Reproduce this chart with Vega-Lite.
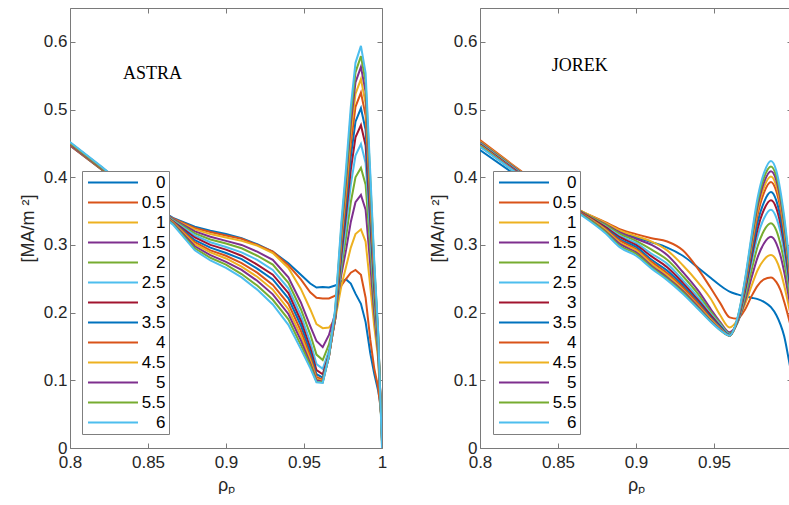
{
  "$schema": "https://vega.github.io/schema/vega-lite/v6.json",
  "background": "white",
  "padding": {"left": 19, "top": 7, "right": 0, "bottom": 0},
  "spacing": 42,
  "datasets": {
    "astra": [
      {"t":"0","x":0.8,"y":0.447},{"t":"0","x":0.82,"y":0.412},{"t":"0","x":0.84,"y":0.377},{"t":"0","x":0.866,"y":0.340},{"t":"0","x":0.88,"y":0.327},{"t":"0","x":0.89,"y":0.321},{"t":"0","x":0.9,"y":0.316},{"t":"0","x":0.91,"y":0.310},{"t":"0","x":0.92,"y":0.301},{"t":"0","x":0.93,"y":0.290},{"t":"0","x":0.94,"y":0.273},{"t":"0","x":0.948,"y":0.256},{"t":"0","x":0.954,"y":0.243},{"t":"0","x":0.958,"y":0.237},{"t":"0","x":0.962,"y":0.238},{"t":"0","x":0.966,"y":0.237},{"t":"0","x":0.97,"y":0.240},{"t":"0","x":0.974,"y":0.246},{"t":"0","x":0.977,"y":0.249},{"t":"0","x":0.98,"y":0.243},{"t":"0","x":0.983,"y":0.228},{"t":"0","x":0.9865,"y":0.213},{"t":"0","x":0.9895,"y":0.186},{"t":"0","x":0.9925,"y":0.140},{"t":"0","x":0.995,"y":0.110},{"t":"0","x":0.9975,"y":0.085},{"t":"0","x":1,"y":0.050},
      {"t":"0.5","x":0.8,"y":0.447},{"t":"0.5","x":0.82,"y":0.412},{"t":"0.5","x":0.84,"y":0.377},{"t":"0.5","x":0.866,"y":0.339},{"t":"0.5","x":0.88,"y":0.325},{"t":"0.5","x":0.89,"y":0.319},{"t":"0.5","x":0.9,"y":0.314},{"t":"0.5","x":0.91,"y":0.309},{"t":"0.5","x":0.92,"y":0.300},{"t":"0.5","x":0.93,"y":0.290},{"t":"0.5","x":0.94,"y":0.270},{"t":"0.5","x":0.948,"y":0.249},{"t":"0.5","x":0.954,"y":0.230},{"t":"0.5","x":0.958,"y":0.222},{"t":"0.5","x":0.962,"y":0.221},{"t":"0.5","x":0.966,"y":0.221},{"t":"0.5","x":0.97,"y":0.225},{"t":"0.5","x":0.974,"y":0.240},{"t":"0.5","x":0.977,"y":0.250},{"t":"0.5","x":0.98,"y":0.259},{"t":"0.5","x":0.983,"y":0.263},{"t":"0.5","x":0.9865,"y":0.256},{"t":"0.5","x":0.9895,"y":0.222},{"t":"0.5","x":0.9925,"y":0.160},{"t":"0.5","x":0.995,"y":0.118},{"t":"0.5","x":0.9975,"y":0.090},{"t":"0.5","x":1,"y":0.040},
      {"t":"1","x":0.8,"y":0.448},{"t":"1","x":0.82,"y":0.413},{"t":"1","x":0.84,"y":0.377},{"t":"1","x":0.866,"y":0.338},{"t":"1","x":0.88,"y":0.323},{"t":"1","x":0.89,"y":0.316},{"t":"1","x":0.9,"y":0.311},{"t":"1","x":0.91,"y":0.306},{"t":"1","x":0.92,"y":0.299},{"t":"1","x":0.93,"y":0.288},{"t":"1","x":0.94,"y":0.266},{"t":"1","x":0.948,"y":0.235},{"t":"1","x":0.954,"y":0.205},{"t":"1","x":0.958,"y":0.183},{"t":"1","x":0.962,"y":0.177},{"t":"1","x":0.966,"y":0.178},{"t":"1","x":0.97,"y":0.190},{"t":"1","x":0.974,"y":0.240},{"t":"1","x":0.977,"y":0.268},{"t":"1","x":0.98,"y":0.296},{"t":"1","x":0.983,"y":0.316},{"t":"1","x":0.9865,"y":0.323},{"t":"1","x":0.9895,"y":0.305},{"t":"1","x":0.9925,"y":0.238},{"t":"1","x":0.995,"y":0.180},{"t":"1","x":0.9975,"y":0.133},{"t":"1","x":1,"y":0.020},
      {"t":"1.5","x":0.8,"y":0.448},{"t":"1.5","x":0.82,"y":0.413},{"t":"1.5","x":0.84,"y":0.377},{"t":"1.5","x":0.866,"y":0.338},{"t":"1.5","x":0.88,"y":0.320},{"t":"1.5","x":0.89,"y":0.312},{"t":"1.5","x":0.9,"y":0.306},{"t":"1.5","x":0.91,"y":0.300},{"t":"1.5","x":0.92,"y":0.290},{"t":"1.5","x":0.93,"y":0.278},{"t":"1.5","x":0.94,"y":0.252},{"t":"1.5","x":0.948,"y":0.215},{"t":"1.5","x":0.954,"y":0.180},{"t":"1.5","x":0.958,"y":0.158},{"t":"1.5","x":0.962,"y":0.149},{"t":"1.5","x":0.966,"y":0.167},{"t":"1.5","x":0.97,"y":0.199},{"t":"1.5","x":0.974,"y":0.257},{"t":"1.5","x":0.977,"y":0.293},{"t":"1.5","x":0.98,"y":0.334},{"t":"1.5","x":0.983,"y":0.363},{"t":"1.5","x":0.9865,"y":0.374},{"t":"1.5","x":0.9895,"y":0.352},{"t":"1.5","x":0.9925,"y":0.270},{"t":"1.5","x":0.995,"y":0.199},{"t":"1.5","x":0.9975,"y":0.141},{"t":"1.5","x":1,"y":0.020},
      {"t":"2","x":0.8,"y":0.449},{"t":"2","x":0.82,"y":0.413},{"t":"2","x":0.84,"y":0.377},{"t":"2","x":0.866,"y":0.337},{"t":"2","x":0.88,"y":0.317},{"t":"2","x":0.89,"y":0.308},{"t":"2","x":0.9,"y":0.302},{"t":"2","x":0.91,"y":0.295},{"t":"2","x":0.92,"y":0.284},{"t":"2","x":0.93,"y":0.271},{"t":"2","x":0.94,"y":0.244},{"t":"2","x":0.948,"y":0.205},{"t":"2","x":0.954,"y":0.168},{"t":"2","x":0.958,"y":0.138},{"t":"2","x":0.962,"y":0.130},{"t":"2","x":0.966,"y":0.153},{"t":"2","x":0.97,"y":0.192},{"t":"2","x":0.974,"y":0.266},{"t":"2","x":0.977,"y":0.312},{"t":"2","x":0.98,"y":0.363},{"t":"2","x":0.983,"y":0.400},{"t":"2","x":0.9865,"y":0.414},{"t":"2","x":0.9895,"y":0.389},{"t":"2","x":0.9925,"y":0.295},{"t":"2","x":0.995,"y":0.213},{"t":"2","x":0.9975,"y":0.147},{"t":"2","x":1,"y":0.020},
      {"t":"2.5","x":0.8,"y":0.449},{"t":"2.5","x":0.82,"y":0.414},{"t":"2.5","x":0.84,"y":0.377},{"t":"2.5","x":0.866,"y":0.336},{"t":"2.5","x":0.88,"y":0.314},{"t":"2.5","x":0.89,"y":0.304},{"t":"2.5","x":0.9,"y":0.297},{"t":"2.5","x":0.91,"y":0.289},{"t":"2.5","x":0.92,"y":0.278},{"t":"2.5","x":0.93,"y":0.263},{"t":"2.5","x":0.94,"y":0.236},{"t":"2.5","x":0.948,"y":0.196},{"t":"2.5","x":0.954,"y":0.157},{"t":"2.5","x":0.958,"y":0.124},{"t":"2.5","x":0.962,"y":0.117},{"t":"2.5","x":0.966,"y":0.144},{"t":"2.5","x":0.97,"y":0.190},{"t":"2.5","x":0.974,"y":0.276},{"t":"2.5","x":0.977,"y":0.329},{"t":"2.5","x":0.98,"y":0.389},{"t":"2.5","x":0.983,"y":0.432},{"t":"2.5","x":0.9865,"y":0.449},{"t":"2.5","x":0.9895,"y":0.421},{"t":"2.5","x":0.9925,"y":0.316},{"t":"2.5","x":0.995,"y":0.226},{"t":"2.5","x":0.9975,"y":0.152},{"t":"2.5","x":1,"y":0.020},
      {"t":"3","x":0.8,"y":0.449},{"t":"3","x":0.82,"y":0.414},{"t":"3","x":0.84,"y":0.377},{"t":"3","x":0.866,"y":0.335},{"t":"3","x":0.88,"y":0.311},{"t":"3","x":0.89,"y":0.300},{"t":"3","x":0.9,"y":0.293},{"t":"3","x":0.91,"y":0.284},{"t":"3","x":0.92,"y":0.271},{"t":"3","x":0.93,"y":0.256},{"t":"3","x":0.94,"y":0.229},{"t":"3","x":0.948,"y":0.188},{"t":"3","x":0.954,"y":0.148},{"t":"3","x":0.958,"y":0.115},{"t":"3","x":0.962,"y":0.109},{"t":"3","x":0.966,"y":0.138},{"t":"3","x":0.97,"y":0.190},{"t":"3","x":0.974,"y":0.286},{"t":"3","x":0.977,"y":0.345},{"t":"3","x":0.98,"y":0.411},{"t":"3","x":0.983,"y":0.459},{"t":"3","x":0.9865,"y":0.477},{"t":"3","x":0.9895,"y":0.447},{"t":"3","x":0.9925,"y":0.334},{"t":"3","x":0.995,"y":0.236},{"t":"3","x":0.9975,"y":0.157},{"t":"3","x":1,"y":0.015},
      {"t":"3.5","x":0.8,"y":0.450},{"t":"3.5","x":0.82,"y":0.414},{"t":"3.5","x":0.84,"y":0.378},{"t":"3.5","x":0.866,"y":0.334},{"t":"3.5","x":0.88,"y":0.307},{"t":"3.5","x":0.89,"y":0.296},{"t":"3.5","x":0.9,"y":0.288},{"t":"3.5","x":0.91,"y":0.279},{"t":"3.5","x":0.92,"y":0.265},{"t":"3.5","x":0.93,"y":0.249},{"t":"3.5","x":0.94,"y":0.221},{"t":"3.5","x":0.948,"y":0.181},{"t":"3.5","x":0.954,"y":0.141},{"t":"3.5","x":0.958,"y":0.109},{"t":"3.5","x":0.962,"y":0.104},{"t":"3.5","x":0.966,"y":0.136},{"t":"3.5","x":0.97,"y":0.192},{"t":"3.5","x":0.974,"y":0.295},{"t":"3.5","x":0.977,"y":0.359},{"t":"3.5","x":0.98,"y":0.430},{"t":"3.5","x":0.983,"y":0.482},{"t":"3.5","x":0.9865,"y":0.502},{"t":"3.5","x":0.9895,"y":0.470},{"t":"3.5","x":0.9925,"y":0.349},{"t":"3.5","x":0.995,"y":0.245},{"t":"3.5","x":0.9975,"y":0.160},{"t":"3.5","x":1,"y":0.015},
      {"t":"4","x":0.8,"y":0.450},{"t":"4","x":0.82,"y":0.414},{"t":"4","x":0.84,"y":0.378},{"t":"4","x":0.866,"y":0.334},{"t":"4","x":0.88,"y":0.304},{"t":"4","x":0.89,"y":0.292},{"t":"4","x":0.9,"y":0.284},{"t":"4","x":0.91,"y":0.273},{"t":"4","x":0.92,"y":0.259},{"t":"4","x":0.93,"y":0.241},{"t":"4","x":0.94,"y":0.213},{"t":"4","x":0.948,"y":0.173},{"t":"4","x":0.954,"y":0.135},{"t":"4","x":0.958,"y":0.105},{"t":"4","x":0.962,"y":0.101},{"t":"4","x":0.966,"y":0.135},{"t":"4","x":0.97,"y":0.194},{"t":"4","x":0.974,"y":0.305},{"t":"4","x":0.977,"y":0.372},{"t":"4","x":0.98,"y":0.449},{"t":"4","x":0.983,"y":0.504},{"t":"4","x":0.9865,"y":0.525},{"t":"4","x":0.9895,"y":0.491},{"t":"4","x":0.9925,"y":0.364},{"t":"4","x":0.995,"y":0.253},{"t":"4","x":0.9975,"y":0.164},{"t":"4","x":1,"y":0.010},
      {"t":"4.5","x":0.8,"y":0.451},{"t":"4.5","x":0.82,"y":0.415},{"t":"4.5","x":0.84,"y":0.378},{"t":"4.5","x":0.866,"y":0.333},{"t":"4.5","x":0.88,"y":0.301},{"t":"4.5","x":0.89,"y":0.289},{"t":"4.5","x":0.9,"y":0.280},{"t":"4.5","x":0.91,"y":0.268},{"t":"4.5","x":0.92,"y":0.253},{"t":"4.5","x":0.93,"y":0.234},{"t":"4.5","x":0.94,"y":0.205},{"t":"4.5","x":0.948,"y":0.166},{"t":"4.5","x":0.954,"y":0.130},{"t":"4.5","x":0.958,"y":0.102},{"t":"4.5","x":0.962,"y":0.099},{"t":"4.5","x":0.966,"y":0.135},{"t":"4.5","x":0.97,"y":0.197},{"t":"4.5","x":0.974,"y":0.313},{"t":"4.5","x":0.977,"y":0.384},{"t":"4.5","x":0.98,"y":0.465},{"t":"4.5","x":0.983,"y":0.523},{"t":"4.5","x":0.9865,"y":0.545},{"t":"4.5","x":0.9895,"y":0.509},{"t":"4.5","x":0.9925,"y":0.376},{"t":"4.5","x":0.995,"y":0.260},{"t":"4.5","x":0.9975,"y":0.167},{"t":"4.5","x":1,"y":0.010},
      {"t":"5","x":0.8,"y":0.451},{"t":"5","x":0.82,"y":0.415},{"t":"5","x":0.84,"y":0.378},{"t":"5","x":0.866,"y":0.332},{"t":"5","x":0.88,"y":0.298},{"t":"5","x":0.89,"y":0.285},{"t":"5","x":0.9,"y":0.275},{"t":"5","x":0.91,"y":0.263},{"t":"5","x":0.92,"y":0.247},{"t":"5","x":0.93,"y":0.227},{"t":"5","x":0.94,"y":0.198},{"t":"5","x":0.948,"y":0.159},{"t":"5","x":0.954,"y":0.125},{"t":"5","x":0.958,"y":0.100},{"t":"5","x":0.962,"y":0.098},{"t":"5","x":0.966,"y":0.135},{"t":"5","x":0.97,"y":0.200},{"t":"5","x":0.974,"y":0.321},{"t":"5","x":0.977,"y":0.396},{"t":"5","x":0.98,"y":0.479},{"t":"5","x":0.983,"y":0.540},{"t":"5","x":0.9865,"y":0.563},{"t":"5","x":0.9895,"y":0.526},{"t":"5","x":0.9925,"y":0.387},{"t":"5","x":0.995,"y":0.267},{"t":"5","x":0.9975,"y":0.169},{"t":"5","x":1,"y":0.010},
      {"t":"5.5","x":0.8,"y":0.451},{"t":"5.5","x":0.82,"y":0.415},{"t":"5.5","x":0.84,"y":0.378},{"t":"5.5","x":0.866,"y":0.331},{"t":"5.5","x":0.88,"y":0.295},{"t":"5.5","x":0.89,"y":0.281},{"t":"5.5","x":0.9,"y":0.271},{"t":"5.5","x":0.91,"y":0.257},{"t":"5.5","x":0.92,"y":0.240},{"t":"5.5","x":0.93,"y":0.219},{"t":"5.5","x":0.94,"y":0.190},{"t":"5.5","x":0.948,"y":0.152},{"t":"5.5","x":0.954,"y":0.122},{"t":"5.5","x":0.958,"y":0.098},{"t":"5.5","x":0.962,"y":0.097},{"t":"5.5","x":0.966,"y":0.136},{"t":"5.5","x":0.97,"y":0.203},{"t":"5.5","x":0.974,"y":0.328},{"t":"5.5","x":0.977,"y":0.405},{"t":"5.5","x":0.98,"y":0.492},{"t":"5.5","x":0.983,"y":0.555},{"t":"5.5","x":0.9865,"y":0.579},{"t":"5.5","x":0.9895,"y":0.541},{"t":"5.5","x":0.9925,"y":0.397},{"t":"5.5","x":0.995,"y":0.272},{"t":"5.5","x":0.9975,"y":0.172},{"t":"5.5","x":1,"y":0.005},
      {"t":"6","x":0.8,"y":0.452},{"t":"6","x":0.82,"y":0.416},{"t":"6","x":0.84,"y":0.378},{"t":"6","x":0.866,"y":0.330},{"t":"6","x":0.88,"y":0.292},{"t":"6","x":0.89,"y":0.277},{"t":"6","x":0.9,"y":0.266},{"t":"6","x":0.91,"y":0.252},{"t":"6","x":0.92,"y":0.234},{"t":"6","x":0.93,"y":0.212},{"t":"6","x":0.94,"y":0.182},{"t":"6","x":0.948,"y":0.146},{"t":"6","x":0.954,"y":0.118},{"t":"6","x":0.958,"y":0.097},{"t":"6","x":0.962,"y":0.096},{"t":"6","x":0.966,"y":0.136},{"t":"6","x":0.97,"y":0.206},{"t":"6","x":0.974,"y":0.335},{"t":"6","x":0.977,"y":0.415},{"t":"6","x":0.98,"y":0.504},{"t":"6","x":0.983,"y":0.569},{"t":"6","x":0.9865,"y":0.594},{"t":"6","x":0.9895,"y":0.554},{"t":"6","x":0.9925,"y":0.406},{"t":"6","x":0.995,"y":0.278},{"t":"6","x":0.9975,"y":0.174},{"t":"6","x":1,"y":0.000}
    ],
    "jorek": [
      {"t":"0","x":0.8,"y":0.440},{"t":"0","x":0.82,"y":0.408},{"t":"0","x":0.84,"y":0.377},{"t":"0","x":0.865,"y":0.346},{"t":"0","x":0.88,"y":0.330},{"t":"0","x":0.89,"y":0.318},{"t":"0","x":0.9,"y":0.311},{"t":"0","x":0.91,"y":0.304},{"t":"0","x":0.92,"y":0.296},{"t":"0","x":0.93,"y":0.284},{"t":"0","x":0.94,"y":0.266},{"t":"0","x":0.948,"y":0.251},{"t":"0","x":0.954,"y":0.240},{"t":"0","x":0.96,"y":0.231},{"t":"0","x":0.965,"y":0.227},{"t":"0","x":0.97,"y":0.224},{"t":"0","x":0.974,"y":0.222},{"t":"0","x":0.978,"y":0.220},{"t":"0","x":0.982,"y":0.216},{"t":"0","x":0.9865,"y":0.208},{"t":"0","x":0.99,"y":0.196},{"t":"0","x":0.9925,"y":0.183},{"t":"0","x":0.995,"y":0.165},{"t":"0","x":0.9975,"y":0.136},{"t":"0","x":1,"y":0.105},
      {"t":"0.5","x":0.8,"y":0.455},{"t":"0.5","x":0.82,"y":0.420},{"t":"0.5","x":0.84,"y":0.386},{"t":"0.5","x":0.865,"y":0.350},{"t":"0.5","x":0.88,"y":0.334},{"t":"0.5","x":0.89,"y":0.323},{"t":"0.5","x":0.9,"y":0.316},{"t":"0.5","x":0.91,"y":0.310},{"t":"0.5","x":0.92,"y":0.305},{"t":"0.5","x":0.93,"y":0.292},{"t":"0.5","x":0.94,"y":0.264},{"t":"0.5","x":0.948,"y":0.236},{"t":"0.5","x":0.954,"y":0.214},{"t":"0.5","x":0.96,"y":0.193},{"t":"0.5","x":0.965,"y":0.191},{"t":"0.5","x":0.97,"y":0.205},{"t":"0.5","x":0.974,"y":0.224},{"t":"0.5","x":0.978,"y":0.240},{"t":"0.5","x":0.982,"y":0.249},{"t":"0.5","x":0.9865,"y":0.252},{"t":"0.5","x":0.99,"y":0.245},{"t":"0.5","x":0.9925,"y":0.234},{"t":"0.5","x":0.995,"y":0.216},{"t":"0.5","x":0.9975,"y":0.195},{"t":"0.5","x":1,"y":0.173},
      {"t":"1","x":0.8,"y":0.453},{"t":"1","x":0.82,"y":0.419},{"t":"1","x":0.84,"y":0.385},{"t":"1","x":0.865,"y":0.350},{"t":"1","x":0.88,"y":0.333},{"t":"1","x":0.89,"y":0.321},{"t":"1","x":0.9,"y":0.313},{"t":"1","x":0.91,"y":0.305},{"t":"1","x":0.92,"y":0.292},{"t":"1","x":0.93,"y":0.270},{"t":"1","x":0.94,"y":0.244},{"t":"1","x":0.948,"y":0.220},{"t":"1","x":0.954,"y":0.196},{"t":"1","x":0.96,"y":0.178},{"t":"1","x":0.965,"y":0.189},{"t":"1","x":0.97,"y":0.213},{"t":"1","x":0.974,"y":0.239},{"t":"1","x":0.978,"y":0.263},{"t":"1","x":0.982,"y":0.278},{"t":"1","x":0.9865,"y":0.285},{"t":"1","x":0.99,"y":0.277},{"t":"1","x":0.9925,"y":0.262},{"t":"1","x":0.995,"y":0.240},{"t":"1","x":0.9975,"y":0.214},{"t":"1","x":1,"y":0.186},
      {"t":"1.5","x":0.8,"y":0.452},{"t":"1.5","x":0.82,"y":0.418},{"t":"1.5","x":0.84,"y":0.384},{"t":"1.5","x":0.865,"y":0.349},{"t":"1.5","x":0.88,"y":0.331},{"t":"1.5","x":0.89,"y":0.318},{"t":"1.5","x":0.9,"y":0.309},{"t":"1.5","x":0.91,"y":0.300},{"t":"1.5","x":0.92,"y":0.285},{"t":"1.5","x":0.93,"y":0.260},{"t":"1.5","x":0.94,"y":0.232},{"t":"1.5","x":0.948,"y":0.205},{"t":"1.5","x":0.954,"y":0.186},{"t":"1.5","x":0.96,"y":0.171},{"t":"1.5","x":0.965,"y":0.185},{"t":"1.5","x":0.97,"y":0.218},{"t":"1.5","x":0.974,"y":0.251},{"t":"1.5","x":0.978,"y":0.282},{"t":"1.5","x":0.982,"y":0.302},{"t":"1.5","x":0.9865,"y":0.312},{"t":"1.5","x":0.99,"y":0.302},{"t":"1.5","x":0.9925,"y":0.285},{"t":"1.5","x":0.995,"y":0.260},{"t":"1.5","x":0.9975,"y":0.229},{"t":"1.5","x":1,"y":0.197},
      {"t":"2","x":0.8,"y":0.451},{"t":"2","x":0.82,"y":0.417},{"t":"2","x":0.84,"y":0.383},{"t":"2","x":0.865,"y":0.349},{"t":"2","x":0.88,"y":0.330},{"t":"2","x":0.89,"y":0.316},{"t":"2","x":0.9,"y":0.306},{"t":"2","x":0.91,"y":0.293},{"t":"2","x":0.92,"y":0.278},{"t":"2","x":0.93,"y":0.254},{"t":"2","x":0.94,"y":0.227},{"t":"2","x":0.948,"y":0.201},{"t":"2","x":0.954,"y":0.184},{"t":"2","x":0.96,"y":0.169},{"t":"2","x":0.965,"y":0.185},{"t":"2","x":0.97,"y":0.223},{"t":"2","x":0.974,"y":0.262},{"t":"2","x":0.978,"y":0.298},{"t":"2","x":0.982,"y":0.321},{"t":"2","x":0.9865,"y":0.332},{"t":"2","x":0.99,"y":0.321},{"t":"2","x":0.9925,"y":0.302},{"t":"2","x":0.995,"y":0.275},{"t":"2","x":0.9975,"y":0.241},{"t":"2","x":1,"y":0.205},
      {"t":"2.5","x":0.8,"y":0.450},{"t":"2.5","x":0.82,"y":0.416},{"t":"2.5","x":0.84,"y":0.383},{"t":"2.5","x":0.865,"y":0.348},{"t":"2.5","x":0.88,"y":0.328},{"t":"2.5","x":0.89,"y":0.313},{"t":"2.5","x":0.9,"y":0.303},{"t":"2.5","x":0.91,"y":0.287},{"t":"2.5","x":0.92,"y":0.272},{"t":"2.5","x":0.93,"y":0.248},{"t":"2.5","x":0.94,"y":0.222},{"t":"2.5","x":0.948,"y":0.198},{"t":"2.5","x":0.954,"y":0.182},{"t":"2.5","x":0.96,"y":0.168},{"t":"2.5","x":0.965,"y":0.186},{"t":"2.5","x":0.97,"y":0.229},{"t":"2.5","x":0.974,"y":0.273},{"t":"2.5","x":0.978,"y":0.313},{"t":"2.5","x":0.982,"y":0.339},{"t":"2.5","x":0.9865,"y":0.352},{"t":"2.5","x":0.99,"y":0.340},{"t":"2.5","x":0.9925,"y":0.320},{"t":"2.5","x":0.995,"y":0.289},{"t":"2.5","x":0.9975,"y":0.252},{"t":"2.5","x":1,"y":0.213},
      {"t":"3","x":0.8,"y":0.449},{"t":"3","x":0.82,"y":0.415},{"t":"3","x":0.84,"y":0.382},{"t":"3","x":0.865,"y":0.348},{"t":"3","x":0.88,"y":0.327},{"t":"3","x":0.89,"y":0.311},{"t":"3","x":0.9,"y":0.300},{"t":"3","x":0.91,"y":0.283},{"t":"3","x":0.92,"y":0.267},{"t":"3","x":0.93,"y":0.244},{"t":"3","x":0.94,"y":0.218},{"t":"3","x":0.948,"y":0.196},{"t":"3","x":0.954,"y":0.180},{"t":"3","x":0.96,"y":0.167},{"t":"3","x":0.965,"y":0.187},{"t":"3","x":0.97,"y":0.233},{"t":"3","x":0.974,"y":0.280},{"t":"3","x":0.978,"y":0.324},{"t":"3","x":0.982,"y":0.352},{"t":"3","x":0.9865,"y":0.366},{"t":"3","x":0.99,"y":0.354},{"t":"3","x":0.9925,"y":0.332},{"t":"3","x":0.995,"y":0.300},{"t":"3","x":0.9975,"y":0.260},{"t":"3","x":1,"y":0.218},
      {"t":"3.5","x":0.8,"y":0.448},{"t":"3.5","x":0.82,"y":0.414},{"t":"3.5","x":0.84,"y":0.381},{"t":"3.5","x":0.865,"y":0.347},{"t":"3.5","x":0.88,"y":0.325},{"t":"3.5","x":0.89,"y":0.308},{"t":"3.5","x":0.9,"y":0.297},{"t":"3.5","x":0.91,"y":0.278},{"t":"3.5","x":0.92,"y":0.262},{"t":"3.5","x":0.93,"y":0.240},{"t":"3.5","x":0.94,"y":0.215},{"t":"3.5","x":0.948,"y":0.193},{"t":"3.5","x":0.954,"y":0.179},{"t":"3.5","x":0.96,"y":0.167},{"t":"3.5","x":0.965,"y":0.188},{"t":"3.5","x":0.97,"y":0.237},{"t":"3.5","x":0.974,"y":0.287},{"t":"3.5","x":0.978,"y":0.334},{"t":"3.5","x":0.982,"y":0.363},{"t":"3.5","x":0.9865,"y":0.378},{"t":"3.5","x":0.99,"y":0.365},{"t":"3.5","x":0.9925,"y":0.342},{"t":"3.5","x":0.995,"y":0.308},{"t":"3.5","x":0.9975,"y":0.267},{"t":"3.5","x":1,"y":0.223},
      {"t":"4","x":0.8,"y":0.447},{"t":"4","x":0.82,"y":0.414},{"t":"4","x":0.84,"y":0.381},{"t":"4","x":0.865,"y":0.347},{"t":"4","x":0.88,"y":0.324},{"t":"4","x":0.89,"y":0.306},{"t":"4","x":0.9,"y":0.294},{"t":"4","x":0.91,"y":0.275},{"t":"4","x":0.92,"y":0.258},{"t":"4","x":0.93,"y":0.237},{"t":"4","x":0.94,"y":0.213},{"t":"4","x":0.948,"y":0.191},{"t":"4","x":0.954,"y":0.177},{"t":"4","x":0.96,"y":0.166},{"t":"4","x":0.965,"y":0.189},{"t":"4","x":0.97,"y":0.241},{"t":"4","x":0.974,"y":0.295},{"t":"4","x":0.978,"y":0.345},{"t":"4","x":0.982,"y":0.377},{"t":"4","x":0.9865,"y":0.393},{"t":"4","x":0.99,"y":0.379},{"t":"4","x":0.9925,"y":0.355},{"t":"4","x":0.995,"y":0.319},{"t":"4","x":0.9975,"y":0.276},{"t":"4","x":1,"y":0.229},
      {"t":"4.5","x":0.8,"y":0.447},{"t":"4.5","x":0.82,"y":0.413},{"t":"4.5","x":0.84,"y":0.380},{"t":"4.5","x":0.865,"y":0.346},{"t":"4.5","x":0.88,"y":0.323},{"t":"4.5","x":0.89,"y":0.303},{"t":"4.5","x":0.9,"y":0.292},{"t":"4.5","x":0.91,"y":0.272},{"t":"4.5","x":0.92,"y":0.255},{"t":"4.5","x":0.93,"y":0.234},{"t":"4.5","x":0.94,"y":0.210},{"t":"4.5","x":0.948,"y":0.190},{"t":"4.5","x":0.954,"y":0.176},{"t":"4.5","x":0.96,"y":0.166},{"t":"4.5","x":0.965,"y":0.190},{"t":"4.5","x":0.97,"y":0.244},{"t":"4.5","x":0.974,"y":0.300},{"t":"4.5","x":0.978,"y":0.352},{"t":"4.5","x":0.982,"y":0.385},{"t":"4.5","x":0.9865,"y":0.401},{"t":"4.5","x":0.99,"y":0.387},{"t":"4.5","x":0.9925,"y":0.362},{"t":"4.5","x":0.995,"y":0.325},{"t":"4.5","x":0.9975,"y":0.280},{"t":"4.5","x":1,"y":0.232},
      {"t":"5","x":0.8,"y":0.446},{"t":"5","x":0.82,"y":0.413},{"t":"5","x":0.84,"y":0.380},{"t":"5","x":0.865,"y":0.346},{"t":"5","x":0.88,"y":0.321},{"t":"5","x":0.89,"y":0.301},{"t":"5","x":0.9,"y":0.289},{"t":"5","x":0.91,"y":0.269},{"t":"5","x":0.92,"y":0.252},{"t":"5","x":0.93,"y":0.232},{"t":"5","x":0.94,"y":0.208},{"t":"5","x":0.948,"y":0.188},{"t":"5","x":0.954,"y":0.175},{"t":"5","x":0.96,"y":0.166},{"t":"5","x":0.965,"y":0.190},{"t":"5","x":0.97,"y":0.246},{"t":"5","x":0.974,"y":0.305},{"t":"5","x":0.978,"y":0.358},{"t":"5","x":0.982,"y":0.392},{"t":"5","x":0.9865,"y":0.409},{"t":"5","x":0.99,"y":0.395},{"t":"5","x":0.9925,"y":0.369},{"t":"5","x":0.995,"y":0.331},{"t":"5","x":0.9975,"y":0.285},{"t":"5","x":1,"y":0.236},
      {"t":"5.5","x":0.8,"y":0.446},{"t":"5.5","x":0.82,"y":0.412},{"t":"5.5","x":0.84,"y":0.379},{"t":"5.5","x":0.865,"y":0.345},{"t":"5.5","x":0.88,"y":0.320},{"t":"5.5","x":0.89,"y":0.298},{"t":"5.5","x":0.9,"y":0.287},{"t":"5.5","x":0.91,"y":0.267},{"t":"5.5","x":0.92,"y":0.250},{"t":"5.5","x":0.93,"y":0.230},{"t":"5.5","x":0.94,"y":0.206},{"t":"5.5","x":0.948,"y":0.187},{"t":"5.5","x":0.954,"y":0.174},{"t":"5.5","x":0.96,"y":0.166},{"t":"5.5","x":0.965,"y":0.191},{"t":"5.5","x":0.97,"y":0.249},{"t":"5.5","x":0.974,"y":0.309},{"t":"5.5","x":0.978,"y":0.364},{"t":"5.5","x":0.982,"y":0.399},{"t":"5.5","x":0.9865,"y":0.416},{"t":"5.5","x":0.99,"y":0.401},{"t":"5.5","x":0.9925,"y":0.375},{"t":"5.5","x":0.995,"y":0.336},{"t":"5.5","x":0.9975,"y":0.289},{"t":"5.5","x":1,"y":0.238},
      {"t":"6","x":0.8,"y":0.445},{"t":"6","x":0.82,"y":0.412},{"t":"6","x":0.84,"y":0.379},{"t":"6","x":0.865,"y":0.344},{"t":"6","x":0.88,"y":0.318},{"t":"6","x":0.89,"y":0.296},{"t":"6","x":0.9,"y":0.284},{"t":"6","x":0.91,"y":0.265},{"t":"6","x":0.92,"y":0.248},{"t":"6","x":0.93,"y":0.228},{"t":"6","x":0.94,"y":0.205},{"t":"6","x":0.948,"y":0.186},{"t":"6","x":0.954,"y":0.174},{"t":"6","x":0.96,"y":0.166},{"t":"6","x":0.965,"y":0.192},{"t":"6","x":0.97,"y":0.251},{"t":"6","x":0.974,"y":0.313},{"t":"6","x":0.978,"y":0.370},{"t":"6","x":0.982,"y":0.406},{"t":"6","x":0.9865,"y":0.424},{"t":"6","x":0.99,"y":0.409},{"t":"6","x":0.9925,"y":0.381},{"t":"6","x":0.995,"y":0.342},{"t":"6","x":0.9975,"y":0.293},{"t":"6","x":1,"y":0.242}
    ]
  },
  "hconcat": [
    {
      "width": 312,
      "height": 440,
      "layer": [
        {
          "data": {"name": "astra"},
          "mark": {"type": "line", "strokeWidth": 2, "interpolate": "linear", "clip": true},
          "encoding": {
            "x": {"field": "x", "type": "quantitative", "scale": {"domain": [0.8, 1], "nice": false, "zero": false},
                  "axis": {"orient": "bottom", "values": [0.8, 0.85, 0.9, 0.95, 1], "format": "~g", "title": "ρₚ"}},
            "y": {"field": "y", "type": "quantitative", "scale": {"domain": [0, 0.65], "nice": false},
                  "axis": {"orient": "left", "values": [0, 0.1, 0.2, 0.3, 0.4, 0.5, 0.6], "format": "~g", "title": "[MA/m ²]"}},
            "color": {"field": "t", "type": "nominal",
                      "scale": {"domain": ["0","0.5","1","1.5","2","2.5","3","3.5","4","4.5","5","5.5","6"],
                                "range": ["#0072BD","#D95319","#EDB120","#7E2F8E","#77AC30","#4DBEEE","#A2142F","#0072BD","#D95319","#EDB120","#7E2F8E","#77AC30","#4DBEEE"]},
                      "legend": {"orient": "none", "legendX": 12, "legendY": 163, "title": null,
                                 "symbolType": "M-12.5,0H12.5", "symbolSize": 16, "symbolStrokeWidth": 2, "symbolOffset": 19.5,
                                 "labelAlign": "right", "labelOffset": 44, "labelFontSize": 17, "labelFont": "Liberation Sans", "labelColor": "black",
                                 "rowPadding": 2, "padding": 3, "strokeColor": "#7f7f7f", "fillColor": "white"}}
          }
        },
        {
          "data": {"values": [{}]},
          "mark": {"type": "text", "font": "Liberation Serif", "fontSize": 18, "align": "left", "baseline": "middle", "color": "black"},
          "encoding": {
            "x": {"datum": 0.834, "type": "quantitative", "axis": {"orient": "top", "labels": false, "title": null, "values": [0.8, 0.85, 0.9, 0.95, 1]}},
            "y": {"datum": 0.553, "type": "quantitative", "axis": {"orient": "right", "labels": false, "title": null, "values": [0, 0.1, 0.2, 0.3, 0.4, 0.5, 0.6]}},
            "text": {"value": "ASTRA"}
          }
        }
      ],
      "resolve": {"axis": {"x": "independent", "y": "independent"}}
    },
    {
      "width": 312,
      "height": 440,
      "layer": [
        {
          "data": {"name": "jorek"},
          "mark": {"type": "line", "strokeWidth": 2, "interpolate": "monotone", "clip": true},
          "encoding": {
            "x": {"field": "x", "type": "quantitative", "scale": {"domain": [0.8, 1], "nice": false, "zero": false},
                  "axis": {"orient": "bottom", "values": [0.8, 0.85, 0.9, 0.95], "format": "~g", "title": "ρₚ"}},
            "y": {"field": "y", "type": "quantitative", "scale": {"domain": [0, 0.65], "nice": false},
                  "axis": {"orient": "left", "values": [0, 0.1, 0.2, 0.3, 0.4, 0.5, 0.6], "format": "~g", "title": "[MA/m ²]"}},
            "color": {"field": "t", "type": "nominal",
                      "scale": {"domain": ["0","0.5","1","1.5","2","2.5","3","3.5","4","4.5","5","5.5","6"],
                                "range": ["#0072BD","#D95319","#EDB120","#7E2F8E","#77AC30","#4DBEEE","#A2142F","#0072BD","#D95319","#EDB120","#7E2F8E","#77AC30","#4DBEEE"]},
                      "legend": {"orient": "none", "legendX": 13, "legendY": 163, "title": null,
                                 "symbolType": "M-12.5,0H12.5", "symbolSize": 16, "symbolStrokeWidth": 2, "symbolOffset": 19.5,
                                 "labelAlign": "right", "labelOffset": 44, "labelFontSize": 17, "labelFont": "Liberation Sans", "labelColor": "black",
                                 "rowPadding": 2, "padding": 3, "strokeColor": "#7f7f7f", "fillColor": "white"}}
          }
        },
        {
          "data": {"values": [{}]},
          "mark": {"type": "text", "font": "Liberation Serif", "fontSize": 18, "align": "left", "baseline": "middle", "color": "black"},
          "encoding": {
            "x": {"datum": 0.846, "type": "quantitative", "axis": {"orient": "top", "labels": false, "title": null, "values": [0.8, 0.85, 0.9, 0.95, 1]}},
            "y": {"datum": 0.565, "type": "quantitative", "axis": {"orient": "right", "labels": false, "title": null, "values": [0, 0.1, 0.2, 0.3, 0.4, 0.5, 0.6]}},
            "text": {"value": "JOREK"}
          }
        }
      ],
      "resolve": {"axis": {"x": "independent", "y": "independent"}}
    }
  ],
  "resolve": {"scale": {"color": "independent"}, "legend": {"color": "independent"}},
  "config": {
    "view": {"stroke": null},
    "font": "Liberation Sans",
    "axis": {
      "domainColor": "#7a7a7a", "tickColor": "#7a7a7a", "domainWidth": 1, "tickWidth": 1, "tickSize": -5,
      "labelColor": "#262626", "labelFontSize": 17, "labelFont": "Liberation Sans",
      "titleFont": "Liberation Sans", "titleFontSize": 18, "titleFontWeight": "normal", "titleColor": "#262626",
      "grid": false, "labelFlush": false, "labelOverlap": false, "labelPadding": 8
    },
    "axisY": {"titlePadding": 6},
    "axisX": {"titlePadding": 6, "labelPadding": 11}
  }
}
